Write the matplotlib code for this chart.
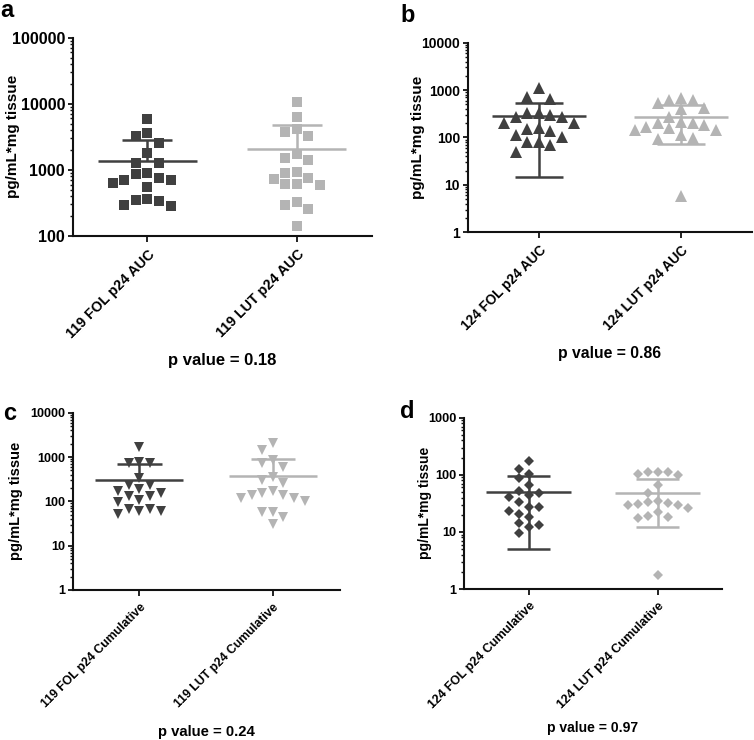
import matplotlib
matplotlib.use('Agg')
import matplotlib.pyplot as plt
import numpy as np
from matplotlib.ticker import LogLocator, NullFormatter

plt.rcParams['font.family'] = ['Liberation Sans', 'DejaVu Sans']
plt.rcParams['font.weight'] = 'bold'

# ---------------- data ----------------
cats_a = ['119 FOL p24 AUC', '119 LUT p24 AUC']
a_fol = [5815, 3570, 3255, 2520, 1820, 1285, 1285, 908, 866, 745, 703, 698, 626, 544, 358, 350, 338, 298, 284]
a_lut = [10760, 6380, 4105, 3785, 3290, 1738, 1494, 1410, 939, 912, 745, 719, 611, 611, 590, 330, 294, 253, 143]
a_mean = [1378, 2070]
a_sd = [1452, 2700]
a_pval = 'p value = 0.18'
a_ticks = [100, 1000, 10000, 100000]
a_ticklabels = ['100', '1000', '10000', '100000']

cats_b = ['124 FOL p24 AUC', '124 LUT p24 AUC']
b_fol = [1089, 726, 638, 334, 323, 298, 266, 266, 205, 205, 156, 149, 139, 113, 104, 82, 82, 69.5, 50]
b_lut = [692, 618, 618, 526, 412, 393, 275, 216, 199, 199, 184, 169, 156, 144, 144, 113, 96, 91, 5.8]
b_mean = [278, 277]
b_sd = [263, 205]
b_pval = 'p value = 0.86'
b_ticks = [1, 10, 100, 1000, 10000]
b_ticklabels = ['1', '10', '100', '1000', '10000']

cats_c = ['119 FOL p24 Cumulative', '119 LUT p24 Cumulative']
c_fol = [1652, 785, 740, 720, 330, 234, 234, 186, 174, 157, 132, 132, 107, 98, 66, 66, 60.5, 60.5, 51.8]
c_lut = [2106, 1438, 856, 720, 605, 348, 303, 264, 174, 157, 139, 139, 117, 117, 104, 58.5, 58.5, 43.5, 30.8]
c_mean = [303, 379]
c_sd = [390, 507]
c_pval = 'p value = 0.24'
c_ticks = [1, 10, 100, 1000, 10000]
c_ticklabels = ['1', '10', '100', '1000', '10000']

cats_d = ['124 FOL p24 Cumulative', '124 LUT p24 Cumulative']
d_fol = [176, 126, 103, 86.6, 66.2, 52.7, 48.6, 44.2, 41.3, 33, 27.6, 27.6, 23.5, 20.6, 18, 14.1, 13.2, 12.3, 9.4]
d_lut = [110, 110, 110, 103, 99, 66, 48.6, 34.7, 34, 32.5, 30.4, 29.5, 29.5, 25.8, 22.6, 19.2, 18.5, 17.7, 1.76]
d_mean = [50, 48]
d_sd = [45, 36]
d_pval = 'p value = 0.97'
d_ticks = [1, 10, 100, 1000]
d_ticklabels = ['1', '10', '100', '1000']

ylabel = 'pg/mL*mg tissue'
DARK = '#404040'
LIGHT = '#b4b4b4'

W, H = 754, 740
fig = plt.figure(figsize=(W / 100, H / 100), dpi=100)


def rect(l, t, r, b):
    return [l / W, 1 - b / H, (r - l) / W, (b - t) / H]


def swarm(ax, center, vals, w_px, step_px):
    tr = ax.transData
    ppu = tr.transform((1, 0))[0] - tr.transform((0, 0))[0]
    ys = [tr.transform((0, v))[1] for v in vals]
    order = np.argsort(-np.array(vals))
    placed = []
    offs = np.zeros(len(vals))
    cand = [0]
    for k in range(1, 12):
        cand += [-k, k]
    for i in order:
        for k in cand:
            x = k * step_px
            ok = True
            for (px, py) in placed:
                if abs(px - x) < w_px * 0.98 and abs(py - ys[i]) < w_px * 0.98:
                    ok = False
                    break
            if ok:
                placed.append((x, ys[i]))
                offs[i] = x / ppu
                break
    return center + offs


panels = [
    dict(rect=rect(72.7, 37.7, 371.5, 236), ylim=(100, 100000), ticks=a_ticks, tl=a_ticklabels,
         cats=cats_a, fol=a_fol, lut=a_lut, mean=a_mean, sd=a_sd, marker=['s', 's'], ms=7.8, w=11, step=5.8,
         tfs=11.5, xfs=10.3, lfs=11, lx=-0.176, pval=a_pval, px=222, py=365, pfs=12,
         letter='a', lxp=0, lyp=16.7),
    dict(rect=rect(467.7, 42.7, 752, 232.3), ylim=(1, 10000), ticks=b_ticks, tl=b_ticklabels,
         cats=cats_b, fol=b_fol, lut=b_lut, mean=b_mean, sd=b_sd, marker=['^', '^'], ms=8.4, w=11.5, step=5.8,
         tfs=10, xfs=9.8, lfs=11, lx=-0.149, pval=b_pval, px=610, py=358.3, pfs=11.3,
         letter='b', lxp=400.3, lyp=21.7),
    dict(rect=rect(72.7, 412.7, 339.5, 590), ylim=(1, 10000), ticks=c_ticks, tl=c_ticklabels,
         cats=cats_c, fol=c_fol, lut=c_lut, mean=c_mean, sd=c_sd, marker=['v', 'v'], ms=7.7, w=10.5, step=5.3,
         tfs=9, xfs=8.8, lfs=10.5, lx=-0.185, pval=c_pval, px=206, py=736, pfs=10.7,
         letter='c', lxp=3.3, lyp=420),
    dict(rect=rect(464.3, 417.7, 722, 589), ylim=(1, 1000), ticks=d_ticks, tl=d_ticklabels,
         cats=cats_d, fol=d_fol, lut=d_lut, mean=d_mean, sd=d_sd, marker=['D', 'D'], ms=4.6, w=9, step=5.0,
         tfs=9.2, xfs=9, lfs=10, lx=-0.125, pval=d_pval, px=593, py=732.3, pfs=10,
         letter='d', lxp=400.3, lyp=418.3),
]

for p in panels:
    ax = fig.add_axes(p['rect'])
    ax.set_yscale('log')
    ax.set_ylim(*p['ylim'])
    ax.set_xlim(-0.5, 1.5)
    for s in ['top', 'right']:
        ax.spines[s].set_visible(False)
    for s in ['left', 'bottom']:
        ax.spines[s].set_linewidth(1.5)
        ax.spines[s].set_color('#111111')
    ax.set_yticks(p['ticks'])
    ax.set_yticklabels(p['tl'], fontsize=p['tfs'], fontweight='bold')
    ax.yaxis.set_minor_locator(LogLocator(base=10, subs=np.arange(2, 10)))
    ax.yaxis.set_minor_formatter(NullFormatter())
    ax.tick_params(axis='y', which='major', length=3.5, width=1.3, pad=2, color='#111111')
    ax.tick_params(axis='y', which='minor', length=2, width=1.0, color='#111111')
    ax.set_xticks([0, 1])
    ax.set_xticklabels(p['cats'], rotation=45, ha='right', va='top', rotation_mode='anchor',
                       fontsize=p['xfs'], fontweight='bold')
    ax.tick_params(axis='x', length=4, width=1.3, pad=4, color='#111111')
    ax.set_ylabel(ylabel, fontsize=p['lfs'], fontweight='bold')
    ax.yaxis.set_label_coords(p['lx'], 0.5)

    for i, (vals, col) in enumerate([(p['fol'], DARK), (p['lut'], LIGHT)]):
        xs = swarm(ax, i, vals, p['w'], p['step'])
        ax.plot(xs, vals, ls='none', marker=p['marker'][i], ms=p['ms'], color=col,
                markeredgewidth=0, zorder=2, clip_on=False)
        m, sd = p['mean'][i], p['sd'][i]
        ax.hlines(m, i - 0.33, i + 0.33, color=col, lw=1.8, zorder=3)
        lo = m - sd
        ax.vlines(i, lo if lo > 0 else m, m + sd, color=col, lw=1.8, zorder=3)
        ax.hlines(m + sd, i - 0.167, i + 0.167, color=col, lw=1.8, zorder=3)
        if lo > 0:
            ax.hlines(lo, i - 0.167, i + 0.167, color=col, lw=1.8, zorder=3)

    fig.text(p['px'] / W, 1 - p['py'] / H, p['pval'], ha='center', va='baseline',
             fontsize=p['pfs'], fontweight='bold')
    fig.text(p['lxp'] / W, 1 - p['lyp'] / H, p['letter'], ha='left', va='baseline',
             fontsize=17, fontweight='bold')

fig.savefig('out.png', dpi=100)
